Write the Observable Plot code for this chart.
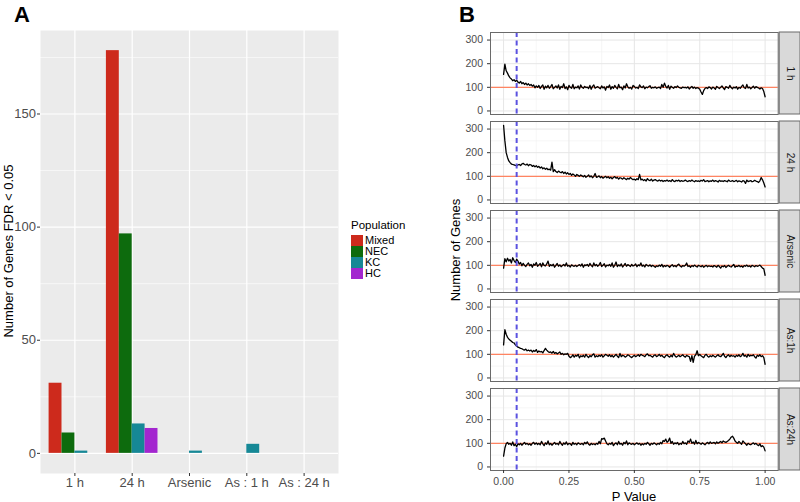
<!DOCTYPE html>
<html>
<head>
<meta charset="utf-8">
<script src="https://cdn.jsdelivr.net/npm/d3@7"></script>
<script src="https://cdn.jsdelivr.net/npm/@observablehq/plot@0.6"></script>
<style>
  html, body { margin: 0; padding: 0; background: white; }
  #wrap { position: relative; width: 800px; height: 502px; overflow: hidden; font-family: "Liberation Sans", Arial, sans-serif; }
  .abs { position: absolute; white-space: nowrap; line-height: 1; }
  .panel { font-weight: bold; font-size: 22px; color: #000; }
  .rot { transform: translate(-50%, -50%) rotate(-90deg); }
  .key { position: absolute; width: 12px; height: 11px; }
</style>
</head>
<body>
<div id="wrap">
  <div id="left" class="abs" style="left:0;top:0"></div>
  <div id="right" class="abs" style="left:420px;top:0"></div>
</div>
<script>
// ---------- Panel A data ----------
const categories = ["1 h", "24 h", "Arsenic", "As : 1 h", "As : 24 h"];
const populations = ["Mixed", "NEC", "KC", "HC"];
const popColors = ["#cd2a1c", "#0d6b0d", "#168896", "#a326cf"];
const mixed = [31, 178, 0, 0, 0];
const nec   = [9, 97, 0, 0, 0];
const kc    = [1, 13, 1, 4, 0];
const hc    = [0, 11, 0, 0, 0];
const yTicksA = [0, 50, 100, 150];

// ---------- Panel B data (counts per p-value bin, 0 .. 1) ----------
const conditions = ["1 h", "24 h", "Arsenic", "As:1h", "As:24h"];
const xTicksB = [0, 0.25, 0.5, 0.75, 1];
const yTicksB = [0, 100, 200, 300];
const h1 = [
 155,198,170,160,148,140,135,128,132,125,130,122,118,125,115,120,112,118,110,115,
 108,112,105,110,98,106,100,108,95,104,110,92,105,98,108,96,103,112,94,100,
 106,97,110,92,104,99,115,95,102,90,108,100,96,112,94,101,98,106,93,110,
 100,96,104,99,101,95,108,92,104,110,96,100,103,98,94,106,97,102,88,104,
 99,110,92,103,96,108,100,94,112,98,101,90,106,97,115,102,96,100,93,108,
 104,97,100,95,110,102,99,106,94,101,98,103,107,96,100,98,102,96,99,101,
 95,112,100,118,104,97,108,92,105,100,96,103,99,106,100,98,96,101,99,100,
 97,102,93,99,104,96,101,95,99,97,92,80,70,86,95,99,95,102,99,93,
 101,97,92,104,99,95,100,106,97,91,103,100,96,108,99,94,101,97,103,92,
 100,96,104,110,98,95,112,97,101,94,99,105,96,103,100,97,93,98,95,82,
 60];
const h24 = [
 316,250,200,180,165,158,152,150,148,146,145,148,150,146,152,155,150,148,152,145,
 150,148,142,146,140,145,138,142,135,140,132,136,130,134,128,130,126,160,120,128,
 120,116,122,118,115,120,112,118,110,115,108,112,104,110,106,100,108,104,100,106,
 102,98,104,96,100,106,97,102,94,100,112,96,98,102,94,99,92,96,100,94,
 98,92,96,90,95,99,92,96,88,94,92,88,94,90,86,92,88,95,90,86,
 88,84,90,86,108,85,88,82,86,80,90,84,82,88,80,84,86,82,80,85,
 80,83,78,82,80,84,79,82,78,86,80,78,83,80,84,78,82,79,81,84,
 80,78,82,79,84,80,77,82,79,81,78,83,80,86,78,80,82,77,81,79,
 84,78,82,80,76,83,79,81,78,82,80,77,84,80,79,82,78,80,83,77,
 81,79,76,82,80,70,84,78,80,82,77,79,83,80,78,74,81,95,85,72,
 55];
const arsenic = [
 88,128,115,130,118,125,110,132,120,112,126,118,105,112,98,108,100,95,104,110,
 98,104,92,106,100,112,96,102,108,94,110,100,97,106,118,96,103,98,105,92,
 100,108,96,102,94,99,104,97,110,96,100,93,102,98,96,100,95,99,103,97,
 106,92,102,99,104,96,108,100,94,110,98,104,96,102,112,95,100,107,93,101,
 98,104,96,110,92,100,114,95,102,97,106,93,100,108,96,103,99,95,104,97,
 100,106,94,102,98,110,96,101,93,104,99,97,102,95,100,96,92,98,95,101,
 96,104,93,99,95,100,97,92,98,103,95,99,94,101,105,97,93,99,96,100,
 110,95,98,92,99,95,101,96,93,100,97,94,99,92,96,100,94,98,95,97,
 93,99,96,92,100,95,88,97,94,99,91,96,100,95,93,98,104,92,97,95,
 100,94,97,92,99,96,101,95,98,93,100,97,94,99,96,98,101,95,88,85,
 58];
const as1h = [
 140,204,185,172,165,160,155,150,148,140,135,130,128,125,124,120,118,122,115,118,
 114,118,110,116,112,120,108,114,110,112,106,116,125,118,112,108,110,105,112,104,
 108,102,106,110,100,104,98,102,100,104,92,86,90,98,88,96,92,100,85,94,
 90,96,88,100,92,86,95,90,98,102,88,94,90,96,92,98,88,94,100,96,
 92,98,90,96,88,94,100,92,86,104,90,96,94,88,92,98,95,90,86,92,
 96,90,94,98,92,100,96,94,90,98,102,94,96,92,88,96,98,90,94,100,
 92,96,90,86,94,98,92,88,96,90,104,94,88,92,96,90,94,98,92,88,
 96,92,90,70,94,66,92,98,115,94,100,94,90,86,96,100,92,88,94,90,
 96,92,88,94,98,92,90,96,104,92,86,94,98,90,96,92,94,88,96,92,
 98,90,94,104,92,96,88,100,92,96,94,98,90,84,96,92,98,90,94,86,
 58];
const as24h = [
 46,80,98,104,96,100,92,106,90,96,86,98,94,100,92,98,104,96,100,94,
 98,92,100,104,96,102,95,100,94,108,98,90,102,96,110,94,100,92,98,104,
 96,100,94,108,98,92,102,96,106,94,100,98,92,104,96,100,94,102,98,96,
 100,94,104,98,106,96,92,100,95,98,94,100,96,108,98,120,118,122,110,98,
 94,100,96,104,90,98,102,94,108,96,100,92,104,98,110,94,102,98,96,100,
 94,98,102,96,100,92,98,94,100,96,104,98,92,100,96,102,98,94,100,96,
 104,98,112,108,118,104,110,122,100,108,96,102,98,104,94,100,96,108,98,102,
 96,110,104,118,100,106,96,112,98,104,100,96,102,98,94,100,104,98,106,100,
 102,104,98,106,100,104,108,102,110,106,104,108,112,118,126,130,122,110,104,100,
 108,102,96,110,104,98,92,100,96,94,98,102,96,100,94,90,98,86,90,84,
 68];
const seriesB = [h1, h24, arsenic, as1h, as24h];

const FONT = "'Liberation Sans', Arial, sans-serif";

// ---------- Panel A ----------
const seriesA = [mixed, nec, kc, hc];
const dodge = 0.9 / populations.length;
const bars = [];
categories.forEach((c, i) => populations.forEach((p, j) => {
  bars.push({category: c, population: p, value: seriesA[j][i],
             x1: i + 1 - 0.45 + j * dodge, x2: i + 1 - 0.45 + (j + 1) * dodge});
}));

const plotA = Plot.plot({
  width: 420, height: 502,
  marginLeft: 40, marginRight: 82, marginTop: 30, marginBottom: 29,
  style: {fontFamily: FONT, background: "transparent"},
  x: {domain: [0.4, 5.6]},
  y: {domain: [-8.9, 186.9]},
  color: {domain: populations, range: popColors},
  marks: [
    Plot.frame({fill: "#ebebeb", stroke: "none"}),
    Plot.gridY([25, 75, 125, 175], {stroke: "white", strokeOpacity: 1, strokeWidth: 0.6}),
    Plot.gridY(yTicksA, {stroke: "white", strokeOpacity: 1, strokeWidth: 1.2}),
    Plot.gridX(categories.map((c, i) => i + 1), {stroke: "white", strokeOpacity: 1, strokeWidth: 1.2}),
    Plot.rect(bars, {x1: "x1", x2: "x2", y1: 0, y2: "value", fill: "population"}),
    Plot.axisY(yTicksA, {tickSize: 3, tickPadding: 1.5, fontSize: 13, fill: "#4d4d4d", stroke: "#333", label: null}),
    Plot.axisX(categories.map((c, i) => i + 1), {tickFormat: i => categories[i - 1], tickSize: 3, tickPadding: 1.5, fontSize: 13, fill: "#4d4d4d", stroke: "#333", label: null})
  ]
});
document.getElementById("left").appendChild(plotA);

// ---------- Panel B ----------
const rowsB = [];
conditions.forEach((c, k) => {
  const s = seriesB[k];
  s.forEach((v, i) => rowsB.push({condition: c, p: i / (s.length - 1), count: v}));
});
const yDomB = [-15, 332];
const plotB = Plot.plot({
  width: 380, height: 502,
  marginLeft: 70, marginRight: 22.3, marginTop: 30.7, marginBottom: 31.3,
  style: {fontFamily: FONT, background: "transparent"},
  x: {domain: [-0.05, 1.05]},
  y: {domain: yDomB},
  fy: {domain: conditions, paddingInner: 0.084, paddingOuter: 0, axis: null, label: null},
  marks: [
    Plot.gridX([0.125, 0.375, 0.625, 0.875], {stroke: "#f0f0f0", strokeOpacity: 1, strokeWidth: 0.6}),
    Plot.gridY([50, 150, 250], {stroke: "#f0f0f0", strokeOpacity: 1, strokeWidth: 0.6}),
    Plot.gridX(xTicksB, {stroke: "#e6e6e6", strokeOpacity: 1, strokeWidth: 1}),
    Plot.gridY(yTicksB, {stroke: "#e6e6e6", strokeOpacity: 1, strokeWidth: 1}),
    Plot.ruleY([100], {stroke: "#ff8462", strokeWidth: 1.3}),
    Plot.line(rowsB, {x: "p", y: "count", fy: "condition", stroke: "black", strokeWidth: 1.3}),
    Plot.ruleX([0.05], {stroke: "#5b52e0", strokeWidth: 2, strokeDasharray: "5,3.5"}),
    Plot.frame({stroke: "#6a6a6a", strokeWidth: 1}),
    Plot.rect([0], {x1: 1.05, x2: 1.05, y1: yDomB[0], y2: yDomB[1], insetLeft: 1.5, insetRight: -22.3, fill: "#d9d9d9", stroke: "#6a6a6a"}),
    Plot.text(conditions, {fy: d => d, text: d => d, x: 1.05, y: (yDomB[0] + yDomB[1]) / 2, dx: 12, rotate: 90, fontSize: 10, fill: "#1a1a1a"}),
    Plot.axisY(yTicksB, {tickSize: 3, tickPadding: 4.5, fontSize: 10.5, fill: "#4d4d4d", stroke: "#333", label: null}),
    Plot.axisX(xTicksB, {tickFormat: d3.format(".2f"), tickSize: 3, tickPadding: 4.5, fontSize: 10.5, fill: "#4d4d4d", stroke: "#333", label: null})
  ]
});
document.getElementById("right").appendChild(plotB);

// ---------- Text overlays ----------
const wrap = document.getElementById("wrap");
function addText(txt, css, cls) {
  const d = document.createElement("div");
  d.className = "abs " + (cls || "");
  d.textContent = txt;
  Object.assign(d.style, css);
  wrap.appendChild(d);
  return d;
}
addText("A", {left: "14px", top: "4px"}, "panel");
addText("B", {left: "459px", top: "4px"}, "panel");
addText("Number of Genes FDR < 0.05", {left: "8px", top: "251px", fontSize: "13px"}, "rot");
addText("Number of Genes", {left: "455px", top: "250px", fontSize: "13px"}, "rot");
addText("P Value", {left: "634px", top: "496px", fontSize: "13px", transform: "translate(-50%,-50%)"});

// Legend
addText("Population", {left: "351px", top: "220px", fontSize: "11.5px"});
populations.forEach((p, j) => {
  const top = 234.5 + j * 11;
  const k = document.createElement("div");
  k.className = "key";
  Object.assign(k.style, {left: "351px", top: top + "px", background: popColors[j]});
  wrap.appendChild(k);
  addText(p, {left: "365px", top: (top + 0.5) + "px", fontSize: "11px"});
});
</script>
</body>
</html>
